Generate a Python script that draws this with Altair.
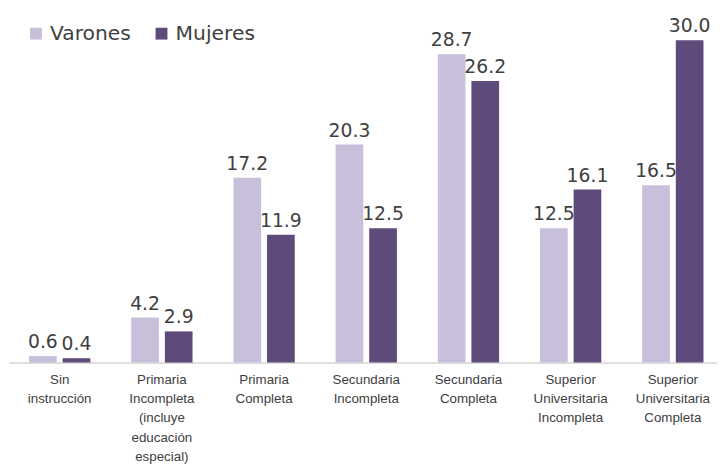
import altair as alt
import pandas as pd

categories = [
    "Sin|instrucción",
    "Primaria|Incompleta|(incluye|educación|especial)",
    "Primaria|Completa",
    "Secundaria|Incompleta",
    "Secundaria|Completa",
    "Superior|Universitaria|Incompleta",
    "Superior|Universitaria|Completa",
]
series = ["Varones", "Mujeres"]
varones = [0.6, 4.2, 17.2, 20.3, 28.7, 12.5, 16.5]
mujeres = [0.4, 2.9, 11.9, 12.5, 26.2, 16.1, 30.0]
colors = ["#c8bfdb", "#5f4b7b"]

rows = []
for c, v, m in zip(categories, varones, mujeres):
    rows.append({"cat": c, "sexo": "Varones", "val": v})
    rows.append({"cat": c, "sexo": "Mujeres", "val": m})
df = pd.DataFrame(rows)

W = 717
H = 356

x = alt.X("cat:N", sort=categories,
          scale=alt.Scale(range=[0.6, 724], paddingInner=0, paddingOuter=0),
          axis=alt.Axis(title=None, labelAngle=0, ticks=False,
                        domainColor="#bfbfbf", domainWidth=1,
                        labelExpr="split(datum.label, '|')",
                        labelFont="Liberation Sans, Arial, sans-serif",
                        labelFontSize=13.5, labelColor="#404040",
                        labelLineHeight=19.5, labelPadding=10,
                        labelBaseline="top"))
xo = alt.XOffset("sexo:N", sort=series,
                 scale=alt.Scale(paddingInner=0.1765, paddingOuter=0.608))
y = alt.Y("val:Q", scale=alt.Scale(domain=[0, 32.76], nice=False),
          axis=None)

bars = alt.Chart(df).mark_bar().encode(
    x=x, xOffset=xo, y=y,
    color=alt.Color("sexo:N", sort=series,
                    scale=alt.Scale(domain=series, range=colors),
                    legend=alt.Legend(title=None, orient="none", legendX=18, legendY=13,
                                      direction="horizontal", symbolType="square",
                                      symbolSize=144, symbolStrokeWidth=0,
                                      labelFont="DejaVu Sans", labelFontSize=20.5,
                                      labelColor="#404040", labelOffset=4,
                                      columnPadding=20)),
)

labels = alt.Chart(df).mark_text(
    baseline="alphabetic", dy=-8, fontSize=19, font="DejaVu Sans", color="#404040"
).encode(
    x=x, xOffset=xo, y=y,
    text=alt.Text("val:Q", format=".1f"),
)

chart = (bars + labels).properties(
    width=W, height=H,
    autosize=alt.AutoSizeParams(type="none"),
    padding={"left": 0, "top": 0, "right": 0, "bottom": 100},
).configure_view(stroke=None)

chart.save("out.html", embed_options={"renderer": "svg", "actions": False})
